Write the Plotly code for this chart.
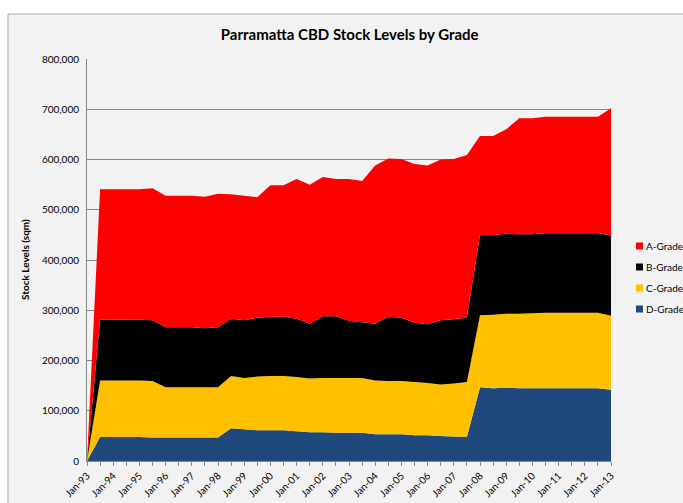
import plotly.graph_objects as go

# semi-annual observations, Jan-93 .. Jan-13
periods = []
for yr in range(1993, 2014):
    periods.append("Jan-%02d" % (yr % 100))
    if yr < 2013:
        periods.append("Jul-%02d" % (yr % 100))

# cumulative tops (sqm)
d_top = [0, 48000, 48000, 48000, 48000, 47000, 47000, 47000, 47000, 47000, 47000,
         65000, 63000, 61000, 61000, 61000, 59000, 57000, 57000, 56000, 56000,
         56000, 53000, 53000, 53000, 51000, 51000, 50000, 49000, 48000, 147000,
         145000, 146000, 145000, 145000, 145000, 145000, 145000, 145000, 145000, 142000]
c_top = [0, 160000, 160000, 160000, 160000, 159000, 147000, 147000, 147000, 147000, 147000,
         169000, 165000, 168000, 169000, 169000, 167000, 164000, 165000, 165000, 165000,
         165000, 160000, 159000, 159000, 157000, 155000, 152000, 154000, 157000, 290000,
         291000, 293000, 293000, 294000, 295000, 295000, 295000, 295000, 295000, 289000]
b_top = [0, 281000, 281000, 281000, 281000, 280000, 266000, 266000, 266000, 264000, 266000,
         283000, 280000, 285000, 287000, 287000, 283000, 273000, 288000, 288000, 279000,
         276000, 273000, 287000, 285000, 275000, 272000, 280000, 282000, 285000, 450000,
         450000, 452000, 451000, 451000, 453000, 453000, 453000, 453000, 453000, 449000]
a_top = [0, 541000, 541000, 541000, 541000, 543000, 528000, 528000, 528000, 526000, 532000,
         531000, 528000, 525000, 549000, 549000, 561000, 550000, 565000, 561000, 561000,
         557000, 588000, 602000, 601000, 591000, 588000, 600000, 601000, 609000, 647000,
         647000, 660000, 682000, 682000, 685000, 685000, 685000, 685000, 685000, 702000]

d_grade = d_top
c_grade = [c - d for c, d in zip(c_top, d_top)]
b_grade = [b - c for b, c in zip(b_top, c_top)]
a_grade = [a - b for a, b in zip(a_top, b_top)]

x = list(range(len(periods)))
font = "Lato, 'Liberation Sans', sans-serif"

# plot area in pixels: x 87..611, y 59..461
def px_x(p):
    return (p - 87) / 524

def px_y(p):
    return (461 - p) / 402

fig = go.Figure()
series = [("D-Grade", d_grade, "#1f497d"), ("C-Grade", c_grade, "#ffc000"),
          ("B-Grade", b_grade, "#000000"), ("A-Grade", a_grade, "#ff0000")]
for name, vals, col in series:
    fig.add_trace(go.Scatter(x=x, y=vals, name=name, stackgroup="one", mode="none",
                             fillcolor=col, showlegend=False))

shapes = [dict(type="rect", xref="paper", yref="paper", layer="below",
               x0=px_x(8), x1=px_x(695), y0=px_y(510), y1=px_y(14),
               fillcolor="#f2f2f2", line=dict(color="#a6a6a6", width=1))]
annotations = [dict(text="<b>Stock Levels (sqm)</b>", textangle=-90, xref="paper", yref="paper",
                    x=px_x(25), y=0.5, xanchor="center", yanchor="middle",
                    showarrow=False, font=dict(size=10, family=font))]

# Excel-style legend: small square key, label right next to it
for i, (name, vals, col) in enumerate(reversed(series)):
    cy = 246 + 21 * i
    shapes.append(dict(type="rect", xref="paper", yref="paper",
                       x0=px_x(636), x1=px_x(643), y0=px_y(cy + 3.5), y1=px_y(cy - 3.5),
                       fillcolor=col, line=dict(width=0)))
    annotations.append(dict(text=name, xref="paper", yref="paper", x=px_x(644), y=px_y(cy),
                            xanchor="left", yanchor="middle", showarrow=False,
                            font=dict(size=10, family=font)))

fig.update_layout(
    width=683, height=503,
    margin=dict(l=87, r=72, t=59, b=42, autoexpand=False),
    paper_bgcolor="white",
    plot_bgcolor="#f2f2f2",
    font=dict(family=font, size=10, color="#000000"),
    title=dict(text="<b>Parramatta CBD Stock Levels by Grade</b>", x=0.512, xanchor="center",
               y=0.93, yanchor="middle", font=dict(size=15, family=font)),
    showlegend=False,
    shapes=shapes,
    annotations=annotations,
)

fig.update_xaxes(range=[0, len(periods) - 1], tickvals=x[::2], ticktext=periods[::2],
                 tickangle=-45, ticks="outside", ticklen=4, tickcolor="#868686",
                 showline=True, linecolor="#868686", showgrid=False, zeroline=False,
                 minor=dict(ticks="outside", dtick=1, tick0=0, ticklen=4, tickcolor="#868686"),
                 tickfont=dict(size=10))
fig.update_yaxes(range=[0, 800000], dtick=100000, tickformat=",", showgrid=True,
                 gridcolor="#868686", showline=True, linecolor="#868686", ticks="",
                 ticklabelstandoff=5, zeroline=False, tickfont=dict(size=10))

fig.write_html("out.html", config={"displayModeBar": False},
               post_script="document.body.style.margin='0';")
